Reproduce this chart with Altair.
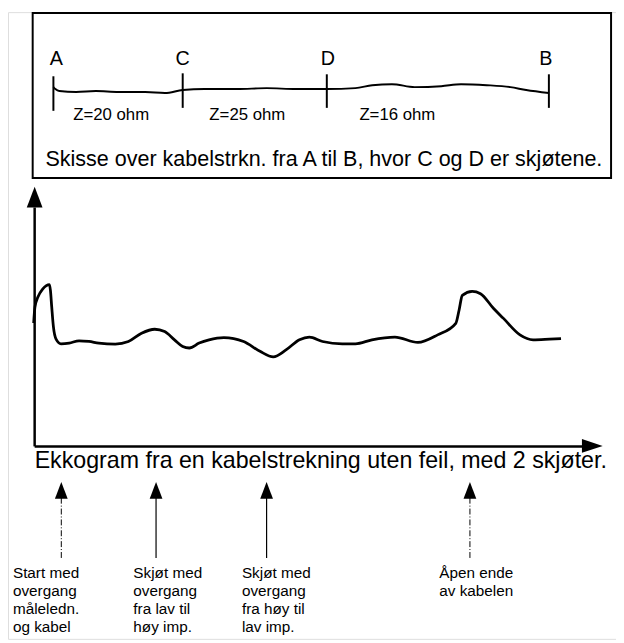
import altair as alt
import pandas as pd

# ---- data (image coordinates, y grows downward) ----
# sketch of the cable A-C-D-B
cable_x = [54, 56, 60, 77, 97, 120, 147, 167, 185, 207, 240, 270, 300, 331, 360, 377, 397, 420, 447, 467, 493, 517, 533, 556]
cable_y = [84, 86, 88, 89, 88, 89, 89, 90, 87, 86, 86, 85, 86, 86, 85, 82, 81, 84, 83, 81, 82, 84, 87, 90]
point_names = ["A", "C", "D", "B"]
point_label_x = [57, 185, 332, 553]
tick_x = [54, 185, 331, 556]
tick_top = [73, 70, 71, 71]
tick_bottom = [108, 105, 105, 105]
segment_labels = ["Z=20 ohm", "Z=25 ohm", "Z=16 ohm"]
segment_label_x = [74, 212, 364]
sketch_caption = "Skisse over kabelstrkn. fra A til B, hvor C og D er skjøtene."

# echogram trace
echo_x = [34, 35.3, 38.3, 43.3, 50, 51, 52.3, 54, 56.7, 61.7, 70, 80, 90, 100, 116.7, 130, 143.3,
          156.7, 166.7, 176.7, 185, 191.7, 201.7, 211.7, 226.7, 246.7, 263.3, 276.7, 290, 303.3,
          313.3, 326.7, 346.7, 360, 376.7, 400, 423.3, 443.3, 461.7, 465, 468.3, 478.3, 486.7,
          500, 510, 526.7, 540, 556.7, 568.3]
echo_y = [323, 306.7, 296.7, 288.3, 284, 290, 306.7, 326.7, 339.3, 344, 343.3, 341, 341.7, 343.3,
          344.3, 341.7, 333.3, 329.3, 331.7, 340, 346.7, 348.3, 343.3, 340, 337.7, 341.7, 351.7,
          357.3, 350, 340, 337.3, 341.7, 344, 344, 340, 337.3, 342.7, 335, 323.3, 310, 295, 291,
          293.3, 308.3, 318.3, 335, 340, 339.3, 338.7]
echo_caption = "Ekkogram fra en kabelstrekning uten feil, med 2 skjøter."

# annotations under the echogram
arrow_x = [62, 158, 270, 476]
arrow_dashed = [True, False, False, True]
note_left = [13, 135, 245, 445]
note_lines = [
    ["Start med", "overgang", "måleledn.", "og kabel"],
    ["Skjøt med", "overgang", "fra lav til", "høy imp."],
    ["Skjøt med", "overgang", "fra høy til", "lav imp."],
    ["Åpen ende", "av kabelen"],
]
note_baselines = [581, 600, 618, 636]

# ---- tables ----
FONT = "Liberation Sans"
X = alt.Scale(domain=[8, 624], nice=False, zero=False)
Y = alt.Scale(domain=[8, 643], nice=False, zero=False, reverse=True)

def xe(f):
    return alt.X(f, scale=X, axis=None)

def ye(f):
    return alt.Y(f, scale=Y, axis=None)

cable_df = pd.DataFrame({"x": cable_x, "y": cable_y, "o": range(len(cable_x))})
echo_df = pd.DataFrame({"x": echo_x, "y": echo_y, "o": range(len(echo_x))})
ticks_df = pd.DataFrame({"x": tick_x, "y": tick_top, "y2": tick_bottom})
letters_df = pd.DataFrame({"t": point_names, "x": point_label_x, "y": [62] * 4})
seg_df = pd.DataFrame({"t": segment_labels, "x": segment_label_x, "y": [117] * 3})
box_df = pd.DataFrame({"x": [33], "x2": [619], "y": [9], "y2": [176]})

axes_df = pd.DataFrame({"x": [35, 35], "x2": [35, 591], "y": [206, 448], "y2": [448, 448]})
arrow_up = "M0,-1L0.76,1L-0.76,1Z"
arrow_right = "M1,0L-1,0.67L-1,-0.67Z"
heads_df = pd.DataFrame({
    "x": [35, 600] + arrow_x,
    "y": [195.5, 447.5] + [492.5] * 4,
    "shape": [arrow_up, arrow_right] + [arrow_up] * 4,
    "size": [441, 441] + [289] * 4,
})
stems_df = pd.DataFrame({"x": arrow_x, "y": [500] * 4, "y2": [561] * 4, "dashed": arrow_dashed})

notes = []
for left, lines in zip(note_left, note_lines):
    for i, line in enumerate(lines):
        notes.append({"t": line, "x": left, "y": note_baselines[i]})
notes_df = pd.DataFrame(notes)

captions_df = pd.DataFrame({"t": [sketch_caption, echo_caption], "x": [46, 35], "y": [164, 470],
                            "size": [21.8, 23.5]})

# ---- layers ----
box = alt.Chart(box_df).mark_rect(fill=None, stroke="black", strokeWidth=2).encode(
    x=xe("x:Q"), x2="x2:Q", y=ye("y:Q"), y2="y2:Q")

cable = alt.Chart(cable_df).mark_line(color="black", strokeWidth=2, interpolate="monotone").encode(
    x=xe("x:Q"), y=ye("y:Q"), order="o:Q")

ticks = alt.Chart(ticks_df).mark_rule(color="black", strokeWidth=2).encode(
    x=xe("x:Q"), y=ye("y:Q"), y2="y2:Q")

letters = alt.Chart(letters_df).mark_text(font=FONT, fontSize=20, align="center",
                                           baseline="alphabetic", color="black").encode(
    x=xe("x:Q"), y=ye("y:Q"), text="t:N")

segs = alt.Chart(seg_df).mark_text(font=FONT, fontSize=17, align="left",
                                    baseline="alphabetic", color="black").encode(
    x=xe("x:Q"), y=ye("y:Q"), text="t:N")

captions = alt.Chart(captions_df).mark_text(font=FONT, align="left", baseline="alphabetic",
                                             color="black").encode(
    x=xe("x:Q"), y=ye("y:Q"), text="t:N", size=alt.Size("size:Q", scale=None, legend=None))

axes = alt.Chart(axes_df).mark_rule(color="black", strokeWidth=2.5).encode(
    x=xe("x:Q"), x2="x2:Q", y=ye("y:Q"), y2="y2:Q")

echo = alt.Chart(echo_df).mark_line(color="black", strokeWidth=2.8, interpolate="monotone").encode(
    x=xe("x:Q"), y=ye("y:Q"), order="o:Q")

heads = alt.Chart(heads_df).mark_point(filled=True, color="black", opacity=1, strokeWidth=0).encode(
    x=xe("x:Q"), y=ye("y:Q"),
    shape=alt.Shape("shape:N", scale=None, legend=None),
    size=alt.Size("size:Q", scale=None, legend=None))

stems_solid = alt.Chart(stems_df).transform_filter("!datum.dashed").mark_rule(
    color="black", strokeWidth=1.2).encode(x=xe("x:Q"), y=ye("y:Q"), y2="y2:Q")
stems_dashed = alt.Chart(stems_df).transform_filter("datum.dashed").mark_rule(
    color="black", strokeWidth=1, strokeDash=[6, 2, 1, 2]).encode(x=xe("x:Q"), y=ye("y:Q"), y2="y2:Q")

note_text = alt.Chart(notes_df).mark_text(font=FONT, fontSize=15.5, align="left",
                                           baseline="alphabetic", color="black").encode(
    x=xe("x:Q"), y=ye("y:Q"), text="t:N")

chart = alt.layer(
    box, cable, ticks, letters, segs, captions, axes, echo, heads, stems_solid, stems_dashed, note_text
).properties(
    width=616, height=635, padding=0, autosize=alt.AutoSizeParams(type="none")
).configure_view(stroke=None).configure(background="white")

chart.save("out.html", embed_options={"renderer": "svg", "actions": False})
